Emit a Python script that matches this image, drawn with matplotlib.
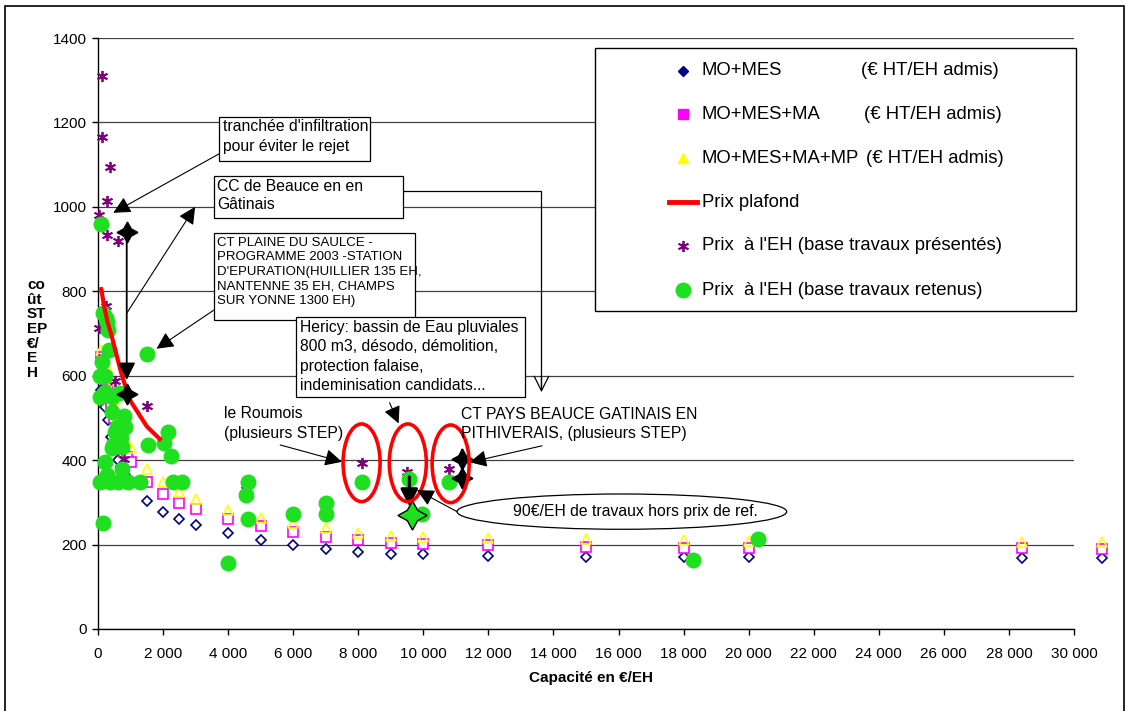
import matplotlib
matplotlib.use("Agg")
import matplotlib.pyplot as plt
from matplotlib.patches import Ellipse, Rectangle
from matplotlib.lines import Line2D
from matplotlib.ticker import FuncFormatter, MultipleLocator

plt.rcParams['font.family'] = ['Liberation Sans', 'DejaVu Sans']

#####   Données   #####
# grille des capacités de référence (EH)
capacites = [100, 200, 300, 400, 500, 600, 700, 800, 900, 1000, 1500, 2000, 2500,
             3000, 4000, 5000, 6000, 7000, 8000, 9000, 10000, 12000, 15000,
             18000, 20000, 28400, 30850]
mo_mes = [565, 525, 495, 454, 426, 400, 385, 372, 360, 348, 303, 278, 261,
          246, 227, 211, 199, 190, 182, 178, 177, 174, 171, 170, 170, 168, 168]
mo_mes_ma = [645, 600, 565, 525, 499, 460, 440, 420, 408, 396, 349, 320, 299,
             284, 261, 243, 230, 219, 211, 203, 201, 198, 195, 193, 192, 191, 190]
mo_mes_ma_mp = [660, 640, 615, 575, 545, 505, 480, 462, 444, 428, 379, 348, 325,
                308, 282, 264, 251, 239, 228, 220, 218, 216, 213, 211, 209, 207, 205]

plafond_x = [100, 200, 300, 400, 500, 600, 700, 800, 900, 1000, 1500, 1900]
plafond_y = [805, 760, 725, 700, 670, 640, 610, 585, 562, 540, 480, 450]

presentes_x = [120, 120, 370, 290, 40, 290, 625, 250, 40, 520, 1520, 800, 150,
               4550, 8100, 9500, 10800]
presentes_y = [1310, 1165, 1094, 1014, 981, 933, 918, 764, 712, 588, 529, 403, 645,
               340, 394, 373, 378]

retenus_x = [100, 150, 250, 300, 270, 350, 1500, 120, 60, 220, 210, 60, 420, 650,
             420, 800, 580, 830, 630, 470, 680, 1530, 2040, 2140, 2250, 230, 750,
             270, 60, 370, 630, 930, 1290, 2300, 2570, 140, 520, 720, 420, 730,
             4000, 4600, 4550, 4620, 6000, 7000, 7000, 8100, 9550, 9950, 10800,
             18300, 20300]
retenus_y = [960, 748, 737, 708, 728, 661, 651, 633, 600, 600, 562, 550, 550, 558,
             515, 505, 479, 479, 460, 436, 444, 436, 440, 467, 410, 396, 380,
             365, 349, 349, 349, 349, 349, 349, 349, 250, 467, 455, 428, 432,
             157, 349, 317, 261, 272, 298, 272, 349, 355, 272, 349,
             163, 213]

# repères ajoutés à la main (étoiles noires et étoile verte)
etoiles_x = [883, 883, 11190, 11190]
etoiles_y = [941, 557, 402, 357]
etoile_verte_x = [9650]
etoile_verte_y = [270]

W, H = 1129, 711


def fpx(x, y):
    """pixels -> fraction de figure"""
    return x / W, 1 - y / H


fig = plt.figure(figsize=(W / 100, H / 100), dpi=100)
ax = fig.add_axes([98 / W, 1 - 629 / H, (1074 - 98) / W, (629 - 38) / H])

ax.plot(capacites, mo_mes, linestyle='none', marker='D', ms=5.5, mfc='white',
        mec='#000080', mew=1.2, zorder=3, clip_on=False)
ax.plot(capacites, mo_mes_ma, linestyle='none', marker='s', ms=7, mfc='white',
        mec='#ff00ff', mew=1.2, zorder=3, clip_on=False)
ax.plot(capacites, mo_mes_ma_mp, linestyle='none', marker='^', ms=7.5, mfc='none',
        mec='#ffff00', mew=1.2, zorder=3, clip_on=False)
ax.plot(presentes_x, presentes_y, linestyle='none', marker=(6, 2, 0), ms=8,
        mec='#800080', mew=1.3, zorder=4, clip_on=False)
ax.plot(retenus_x, retenus_y, linestyle='none', marker='o', ms=10.5,
        mfc='#1fe01f', mec='#1fe01f', zorder=5, clip_on=False)
ax.plot(plafond_x, plafond_y, color='red', lw=3, zorder=6)

ax.set_xlim(0, 30000)
ax.set_ylim(0, 1400)
ax.xaxis.set_major_locator(MultipleLocator(2000))
ax.yaxis.set_major_locator(MultipleLocator(200))
ax.xaxis.set_major_formatter(FuncFormatter(lambda v, p: f"{v:,.0f}".replace(",", " ")))
ax.yaxis.set_major_formatter(FuncFormatter(lambda v, p: f"{v:.0f}"))
ax.tick_params(direction='out', length=4, width=1, labelsize=11, color='black')
ax.tick_params(axis='x', pad=9)
ax.tick_params(axis='y', pad=4)
ax.grid(axis='y', color='#404040', lw=0.9)
ax.set_axisbelow(True)
for s in ['top', 'right']:
    ax.spines[s].set_visible(False)
for s in ['left', 'bottom']:
    ax.spines[s].set_linewidth(1)

# étoiles noires et flèches verticales
ax.plot(etoiles_x, etoiles_y, linestyle='none', marker=(4, 1, 0), ms=15,
        color='black', zorder=8, clip_on=False)
ax.plot([11190, 11190], [425, 337], color='black', lw=1.6, zorder=7)
ax.plot(etoile_verte_x, etoile_verte_y, linestyle='none', marker=(4, 1, 0), ms=21,
        mfc='#1fe01f', mec='black', mew=1, zorder=8)

fleche = dict(arrowstyle='-|>', color='black', lw=0.8, mutation_scale=26,
              shrinkA=0, shrinkB=0)
fleche_verticale = dict(arrowstyle='-|>', color='black', lw=1.3, mutation_scale=26,
                        shrinkA=0, shrinkB=0)
fleche_epaisse = dict(arrowstyle='-|>', color='black', lw=2.2, mutation_scale=26,
                      shrinkA=0, shrinkB=0)


def fleche_vers(x0, y0, x1, y1, props=fleche):
    ax.annotate('', xy=(x1, y1), xytext=(x0, y0), arrowprops=props,
                zorder=9, annotation_clip=False)


fleche_vers(883, 941, 883, 590, fleche_verticale)
fleche_vers(9569, 361, 9569, 290, fleche_epaisse)


def boite(x0, y0, x1, y1, lignes, xt, ys, taille):
    ax.add_patch(Rectangle((x0, y0), x1 - x0, y1 - y0, facecolor='white',
                           edgecolor='black', lw=0.9, zorder=10, clip_on=False))
    for txt, yy in zip(lignes, ys):
        ax.text(xt, yy, txt, fontsize=taille, va='center', ha='left', zorder=11)


boite(3732, 1108.6, 8369, 1213.6, ["tranchée d'infiltration", "pour éviter le rejet"],
      3837, [1190, 1142.5], 11.3)
fleche_vers(3754, 1127, 471, 986)

boite(3577, 972.9, 9363, 1073.8, ["CC de Beauce en en", "Gâtinais"],
      3671, [1049.4, 1004.4], 11.3)
fleche_vers(883, 748, 2985, 1000)
ax.plot([9363, 13631, 13631], [1037.6, 1037.6, 575], color='black', lw=0.9, zorder=7)
ax.annotate('', xy=(13631, 561), xytext=(13631, 600),
            arrowprops=dict(arrowstyle='->,head_length=0.4,head_width=0.2',
                            color='black', lw=0.9, mutation_scale=26,
                            shrinkA=0, shrinkB=0), zorder=9)

boite(3577, 732, 9754, 937.6,
      ["CT PLAINE DU SAULCE -", "PROGRAMME 2003 -STATION",
       "D'EPURATION(HUILLIER 135 EH,", "NANTENNE 35 EH, CHAMPS", "SUR YONNE 1300 EH)"],
      3643, [913.7, 880.6, 846.6, 812.5, 777.7], 9.5)
fleche_vers(3649, 760, 1800, 664)

boite(6092, 548.9, 13138, 738.4,
      ["Hericy: bassin de Eau pluviales", "800 m3, désodo, démolition,",
       "protection falaise,", "indeminisation candidats..."],
      6194, [714.7, 668.8, 623, 576.4], 11.3)
fleche_vers(8963, 536, 9240, 487)

ax.text(3877, 511, "le Roumois", fontsize=11.3, va='center', zorder=11)
ax.text(3877, 463.6, "(plusieurs STEP)", fontsize=11.3, va='center', zorder=11)
fleche_vers(5600, 436, 7498, 396)

ax.text(11160, 509.3, "CT PAYS BEAUCE GATINAIS EN", fontsize=11.3, va='center', zorder=11)
ax.text(11160, 463.6, "PITHIVERAIS, (plusieurs STEP)", fontsize=11.3, va='center', zorder=11)
fleche_vers(13650, 434, 11425, 395)

for cx, cy in [(8102, 393.7), (9523, 393.7), (10840, 391.3)]:
    ax.add_patch(Ellipse((cx, cy), 1138, 184, fill=False, edgecolor='red', lw=2.6, zorder=9))

fleche_vers(11037, 278, 9806, 329)
ax.add_patch(Ellipse((16103, 278), 10132, 83.6, facecolor='white', edgecolor='black',
                     lw=0.9, zorder=10))
ax.text(16508, 278, "90€/EH de travaux hors prix de ref.", fontsize=11.3,
        ha='center', va='center', zorder=11)

# légende
x0, y0 = fpx(595, 311)
x1, y1 = fpx(1076, 48)
fig.add_artist(Rectangle((x0, y0), x1 - x0, y1 - y0, transform=fig.transFigure,
                         facecolor='white', edgecolor='black', lw=1, zorder=5))
lignes_leg = [
    (dict(marker='D', ms=5, color='#000080'), "MO+MES", "(€ HT/EH admis)", 861),
    (dict(marker='s', ms=7, color='#ff00ff'), "MO+MES+MA", "(€ HT/EH admis)", 864),
    (dict(marker='^', ms=7.5, color='#ffff00'), "MO+MES+MA+MP", "(€ HT/EH admis)", 866),
    (None, "Prix plafond", None, 0),
    (dict(marker=(6, 2, 0), ms=8, color='#800080', mew=1.3), "Prix  à l'EH (base travaux présentés)", None, 0),
    (dict(marker='o', ms=10.5, color='#1fe01f'), "Prix  à l'EH (base travaux retenus)", None, 0),
]
rangs = [70.7, 114.3, 158.3, 202.3, 246, 290]
for (style, lab, suite, xs), yy in zip(lignes_leg, rangs):
    if style is None:
        xa, ya = fpx(669, yy)
        xb, _ = fpx(697, yy)
        fig.add_artist(Line2D([xa, xb], [ya, ya], color='red', lw=3.5,
                              transform=fig.transFigure, zorder=6))
    else:
        xm, ym = fpx(682.7, yy)
        fig.add_artist(Line2D([xm], [ym], linestyle='none', transform=fig.transFigure,
                              zorder=6, **style))
    xt, yt = fpx(701.7, yy)
    fig.text(xt, yt, lab, fontsize=13.3, va='center', zorder=7)
    if suite:
        xt2, _ = fpx(xs, yy)
        fig.text(xt2, yt, suite, fontsize=13.3, va='center', zorder=7)

# titres des axes
fig.text(*fpx(27, 329), "co\nût\nST\nEP\n€/\nE\nH", fontsize=11, fontweight='bold',
         va='center', ha='left', linespacing=1.05)
fig.text(*fpx(591, 678), "Capacité en €/EH", fontsize=11, fontweight='bold',
         va='center', ha='center')

# cadre de la zone graphique
bx, by = fpx(5, 720)
fig.add_artist(Rectangle((bx, by), (1124 - 5) / W, (720 - 6) / H, transform=fig.transFigure,
                         fill=False, edgecolor='black', lw=1.2, zorder=1))

fig.savefig("out.png", dpi=100)
